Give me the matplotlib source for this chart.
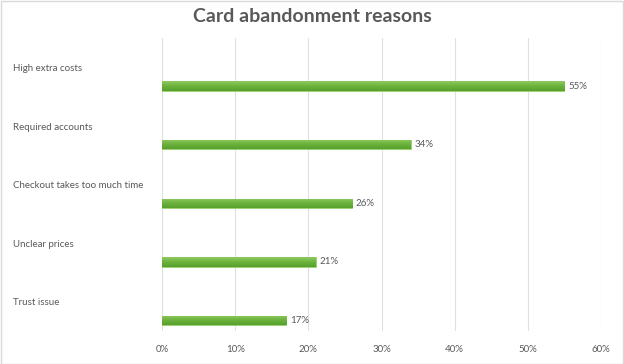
import numpy as np
import matplotlib.pyplot as plt
from matplotlib.colors import LinearSegmentedColormap
from matplotlib.patches import Rectangle

plt.rcParams['font.family'] = ['Lato', 'DejaVu Sans']

# data
reasons = ['High extra costs', 'Required accounts', 'Checkout takes too much time',
           'Unclear prices', 'Trust issue']
shares = [55, 34, 26, 21, 17]
xticks = [0, 10, 20, 30, 40, 50, 60]

grey = '#595959'
fig = plt.figure(figsize=(6.24, 3.64), dpi=100)
ax = fig.add_axes([162/624, 1-331/364, (601-162)/624, (331-38)/364])

pos = np.arange(len(reasons))
bh = 0.16
bars = ax.barh(pos, shares, height=bh, color='#70b040', edgecolor='#9bd070', linewidth=0.6, zorder=3)

# verlauf in den balken
cmap = LinearSegmentedColormap.from_list('g', ['#8fca62', '#6cb23c', '#58a02e'])
grad = np.linspace(0, 1, 64).reshape(-1, 1)
for b in bars:
    im = ax.imshow(grad, cmap=cmap, aspect='auto', zorder=3.5,
                   extent=[b.get_x(), b.get_x() + b.get_width(),
                           b.get_y() + b.get_height(), b.get_y()])
    im.set_clip_path(b)

# wert rechts, kategorie links oberhalb des balkens
for p, v, name in zip(pos, shares, reasons):
    ax.text(v + 0.5, p, f'{v}%', va='center', ha='left', fontsize=7, color=grey)
    ax.text(-20.4, p - 0.3, name, va='center', ha='left', fontsize=7, color=grey)

ax.set_xlim(0, 60)
ax.set_ylim(4.18, -0.82)
ax.set_xticks(xticks)
ax.set_xticklabels([f'{t}%' for t in xticks], fontsize=7, color=grey)
ax.set_yticks([])
ax.tick_params(axis='x', length=0, pad=10)
ax.grid(axis='x', color='#e0e0e0', linewidth=0.8, zorder=0)
for s in ax.spines.values():
    s.set_visible(False)

fig.text(0.5, 1-17/364, 'Card abandonment reasons', ha='center', va='center',
         fontsize=14, fontweight='bold', color=grey)
fig.patches.append(Rectangle((0.001, 0.001), 0.997, 0.997, transform=fig.transFigure,
                             fill=False, edgecolor='#d9d9d9', linewidth=1))

fig.savefig('out.png', dpi=100)
